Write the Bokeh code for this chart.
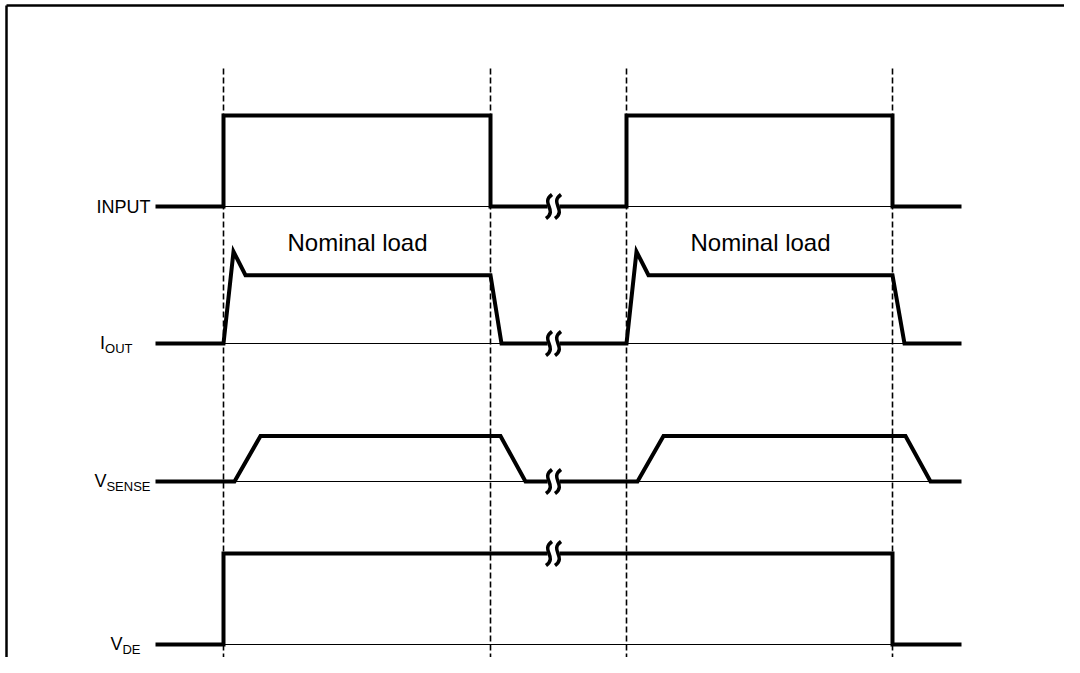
from bokeh.plotting import figure
from bokeh.models import Range1d
from bokeh.embed import file_html
from bokeh.resources import INLINE
from bokeh.core.properties import value

# ---------------- data (time units, signal levels) ----------------
edge_times = [223, 490, 626, 892]          # dashed time markers
break_time = 553                            # time-axis break

signals = ["INPUT", "IOUT", "VSENSE", "VDE"]
label_main = ["INPUT", "I", "V", "V"]
label_sub = ["", "OUT", "SENSE", "DE"]

# each signal: two pieces (before / after the break)
input_t = [[155, 223, 223, 490, 490, 547], [559, 626, 626, 892, 892, 961]]
input_l = [[0, 0, 1, 1, 0, 0], [0, 0, 1, 1, 0, 0]]

iout_t = [[155, 223, 233, 245, 490, 501, 547], [559, 626, 636, 648, 892, 904, 961]]
iout_l = [[0, 0, 1.01, 0.75, 0.75, 0, 0], [0, 0, 1.01, 0.75, 0.75, 0, 0]]

vsense_t = [[155, 234, 260, 500, 525, 547], [559, 637, 663, 905, 930, 961]]
vsense_l = [[0, 0, 0.5, 0.5, 0, 0], [0, 0, 0.5, 0.5, 0, 0]]

vde_t = [[155, 223, 223, 547], [559, 892, 892, 961]]
vde_l = [[0, 0, 1, 1], [1, 1, 0, 0]]

# thin reference (zero) lines: start / end times per signal
ref_t = [[[223, 490], [626, 892]],
         [[223, 501], [626, 904]],
         [[223, 525], [626, 930]],
         [[223, 892]]]

break_level = [0, 0, 0, 1]

note_text = ["Nominal load", "Nominal load"]
note_time = [357, 760]

# ---------------- layout ----------------
W, H = 1064, 657
baselines = [206, 343, 481, 644]
amp = 91

p = figure(width=W, height=H, output_backend="svg", toolbar_location=None,
           x_range=Range1d(0, W), y_range=Range1d(H, 0),
           min_border=0, x_axis_type=None, y_axis_type=None)
p.grid.visible = False
p.outline_line_color = None
p.background_fill_color = "white"
p.border_fill_color = "white"

# frame (top and left)
p.line(x=[6, W], y=[5, 5], line_color="black", line_width=2.5)
p.line(x=[6, 6], y=[5, H], line_color="black", line_width=2.5)

# dashed time markers
for t in edge_times:
    p.line(x=[t, t], y=[68, H], line_color="black", line_width=1.6,
           line_dash="6 3")

wave_t = [input_t, iout_t, vsense_t, vde_t]
wave_l = [input_l, iout_l, vsense_l, vde_l]

for i, base in enumerate(baselines):
    # thin reference line
    for seg in ref_t[i]:
        p.line(x=seg, y=[base, base], line_color="black", line_width=1)
    # thick waveform
    for ts, ls in zip(wave_t[i], wave_l[i]):
        ys = [base - l * amp for l in ls]
        p.line(x=ts, y=ys, line_color="black", line_width=4,
               line_join="miter", line_cap="butt")
    # break symbol (two S-shaped squiggles)
    by = base - break_level[i] * amp
    for dx in (-4.5, 4.5):
        cx = break_time + dx
        p.bezier(x0=[cx + 3], y0=[by - 12], x1=[cx - 3], y1=[by + 12],
                 cx0=[cx - 9], cy0=[by - 3], cx1=[cx + 9], cy1=[by + 3],
                 line_color="black", line_width=3.5)

# labels with subscripts
font = value("Liberation Sans")
fs_main, fs_sub = 18, 13
adv = {"I": 0.278, "V": 0.667, "N": 0.722, "P": 0.667, "U": 0.722, "T": 0.611,
       "O": 0.778, "S": 0.667, "E": 0.667, "D": 0.722}
right_edges = [150, 132, 150, 140]
for i, base in enumerate(baselines):
    wm = sum(adv[c] for c in label_main[i]) * fs_main
    ws = sum(adv[c] for c in label_sub[i]) * fs_sub
    left = right_edges[i] - wm - ws
    p.text(x=[left], y=[base - (1 if label_sub[i] else 0)], text=[label_main[i]],
           text_font=font, text_font_size=f"{fs_main}px", text_align="left",
           text_baseline="middle", text_color="black")
    if label_sub[i]:
        p.text(x=[left + wm], y=[base + 5], text=[label_sub[i]], text_font=font,
               text_font_size=f"{fs_sub}px", text_align="left",
               text_baseline="middle", text_color="black")

p.text(x=note_time, y=[242, 242], text=note_text, text_font=font,
       text_font_size="24px", text_align="center", text_baseline="middle",
       text_color="black")

open("out.html", "w").write(file_html(p, INLINE))
